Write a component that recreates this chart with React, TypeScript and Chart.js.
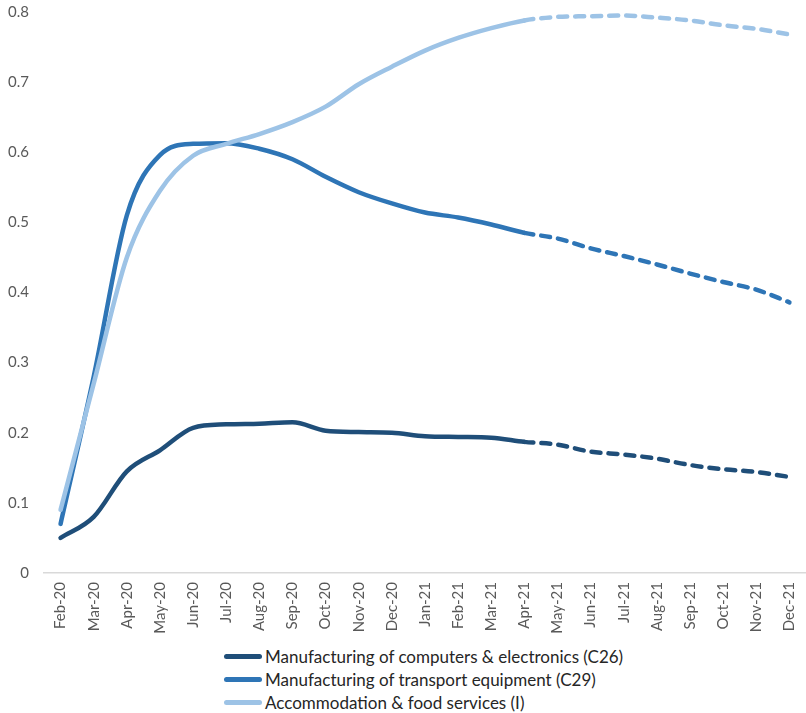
import React, { useEffect, useRef } from "react";
import { Chart, registerables } from "chart.js";

Chart.register(...registerables);

const months = ["Feb-20","Mar-20","Apr-20","May-20","Jun-20","Jul-20","Aug-20","Sep-20","Oct-20","Nov-20","Dec-20","Jan-21","Feb-21","Mar-21","Apr-21","May-21","Jun-21","Jul-21","Aug-21","Sep-21","Oct-21","Nov-21","Dec-21"];

const c26 = [0.05,0.08,0.145,0.175,0.207,0.212,0.213,0.215,0.203,0.201,0.2,0.195,0.194,0.193,0.187,0.183,0.173,0.169,0.163,0.154,0.148,0.144,0.137];
const c29 = [0.07,0.28,0.51,0.596,0.612,0.613,0.605,0.59,0.565,0.543,0.527,0.514,0.507,0.497,0.485,0.477,0.463,0.452,0.44,0.427,0.415,0.404,0.386];
const accom = [0.09,0.27,0.45,0.545,0.595,0.612,0.626,0.643,0.665,0.697,0.722,0.745,0.763,0.777,0.788,0.793,0.794,0.795,0.792,0.788,0.781,0.776,0.768];

const seriesNames = [
  "Manufacturing of computers & electronics (C26)",
  "Manufacturing of transport equipment (C29)",
  "Accommodation & food services (I)",
];
const colors = ["#1F4E79", "#2E75B6", "#9DC3E6"];
const yTicks = [0, 0.1, 0.2, 0.3, 0.4, 0.5, 0.6, 0.7, 0.8];
const forecastStart = 14;

export default function App() {
  const ref = useRef<HTMLCanvasElement | null>(null);
  useEffect(() => {
    document.body.style.margin = "0";
    const dash = (ctx: any) => (ctx.p0DataIndex >= forecastStart ? [9, 8] : undefined);
    const mk = (data: number[], i: number) => ({
      label: seriesNames[i],
      data,
      borderColor: colors[i],
      backgroundColor: colors[i],
      borderWidth: 4.5,
      pointRadius: 0,
      tension: 0.4,
      cubicInterpolationMode: "monotone" as const,
      borderCapStyle: "round" as const,
      fill: false,
      segment: { borderDash: dash },
    });
    const chart = new Chart(ref.current!, {
      type: "line",
      data: {
        labels: months,
        datasets: [mk(accom, 2), mk(c29, 1), mk(c26, 0)],
      },
      options: {
        animation: false,
        responsive: false,
        maintainAspectRatio: false,
        layout: { padding: { top: 12, right: 0, left: 0, bottom: 0 } },
        plugins: { legend: { display: false }, tooltip: { enabled: false } },
        scales: {
          x: {
            offset: true,
            grid: { display: false, drawTicks: false },
            border: { display: true, color: "#D9D9D9", width: 1.5 },
            ticks: {
              minRotation: 90,
              maxRotation: 90,
              autoSkip: false,
              padding: 9,
              color: "#595959",
              font: { family: "Lato, 'Open Sans', sans-serif", size: 15 },
            },
            afterFit: (s: any) => { s.height = 67; s.paddingLeft = 0; s.paddingRight = 0; },
          },
          y: {
            min: 0,
            max: 0.8,
            afterBuildTicks: (s: any) => { s.ticks = yTicks.map((v) => ({ value: v })); },
            grid: { display: false, drawTicks: false },
            border: { display: false },
            ticks: {
              padding: 15,
              color: "#595959",
              font: { family: "Lato, 'Open Sans', sans-serif", size: 15 },
              callback: (v: any) => String(Math.round(Number(v) * 10) / 10),
            },
            afterFit: (s: any) => { s.width = 44; s.paddingTop = 0; s.paddingBottom = 0; },
          },
        },
      },
    });
    return () => chart.destroy();
  }, []);

  return (
    <div style={{ position: "relative", width: 806, height: 713 }}>
      <canvas ref={ref} width={806} height={640} style={{ display: "block" }} />
      <div style={{ position: "absolute", left: 224, top: 645, fontFamily: "Lato, 'Open Sans', sans-serif", fontSize: 17, color: "#262626" }}>
        {seriesNames.map((n, i) => (
          <div key={n} style={{ display: "flex", alignItems: "center", height: 23 }}>
            <span style={{ display: "inline-block", width: 38, height: 5, borderRadius: 3, background: colors[i], marginRight: 3 }} />
            <span>{n}</span>
          </div>
        ))}
      </div>
    </div>
  );
}
